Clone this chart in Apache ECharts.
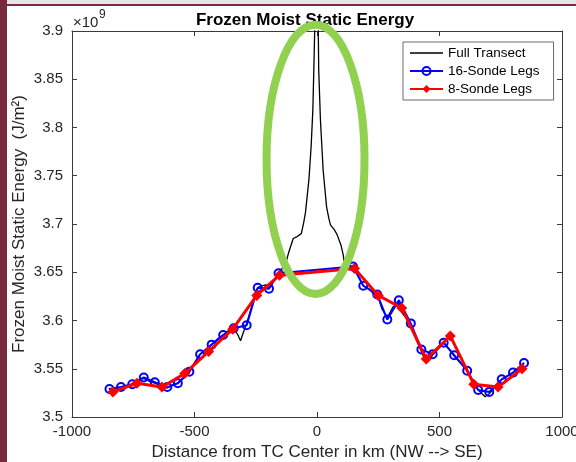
<!DOCTYPE html>
<html>
<head>
<meta charset="utf-8">
<script src="https://cdn.jsdelivr.net/npm/echarts@6/dist/echarts.min.js"></script>
<style>
  html, body { margin: 0; padding: 0; background: #fff; }
  #main { width: 576px; height: 462px; }
</style>
</head>
<body>
<div id="main"></div>
<script>
// values in units of 1e9 J/m^2, distance in km
const xTicks = [-1000, -500, 0, 500, 1000];
const yTicks = [3.5, 3.55, 3.6, 3.65, 3.7, 3.75, 3.8, 3.85, 3.9];

const fullTransect = [
  [-850, 3.529], [-800, 3.531], [-754, 3.534], [-730, 3.538], [-707, 3.540],
  [-685, 3.537], [-662, 3.535], [-640, 3.533], [-611, 3.530], [-590, 3.533],
  [-568, 3.535], [-545, 3.540], [-521, 3.547], [-500, 3.556], [-477, 3.565],
  [-455, 3.569], [-430, 3.575], [-405, 3.581], [-383, 3.585], [-360, 3.590],
  [-340, 3.592], [-325, 3.586], [-312, 3.579], [-300, 3.588], [-287, 3.597],
  [-265, 3.616], [-250, 3.630], [-242, 3.634], [-225, 3.636], [-210, 3.637],
  [-196, 3.633], [-175, 3.642], [-157, 3.649], [-142, 3.654], [-128, 3.659],
  [-115, 3.671], [-97, 3.685], [-81, 3.687], [-64, 3.690], [-54, 3.702],
  [-47, 3.712], [-33, 3.746], [-24, 3.780], [-17, 3.818], [-13, 3.860],
  [-9, 3.905], [-6, 3.95], [-2, 3.98], [0, 3.96], [2, 3.98], [4, 3.93],
  [7, 3.86], [14, 3.808], [25, 3.756], [39, 3.718], [48, 3.706], [55, 3.699],
  [71, 3.694], [82, 3.689], [98, 3.678], [107, 3.668], [112, 3.659],
  [130, 3.657], [147, 3.656], [165, 3.648], [189, 3.636], [210, 3.633],
  [230, 3.628], [246, 3.627], [265, 3.612], [287, 3.603], [310, 3.614],
  [334, 3.619], [350, 3.607], [366, 3.602], [383, 3.595], [405, 3.580],
  [426, 3.568], [445, 3.556], [455, 3.558], [472, 3.564], [495, 3.572],
  [517, 3.577], [540, 3.570], [560, 3.563], [590, 3.555], [613, 3.548],
  [635, 3.537], [658, 3.528], [686, 3.521], [703, 3.524], [730, 3.532],
  [754, 3.539], [780, 3.543], [800, 3.546], [825, 3.551], [845, 3.556]
];

const sonde16 = [
  [-847, 3.529], [-800, 3.531], [-754, 3.534], [-707, 3.541], [-662, 3.536],
  [-611, 3.531], [-568, 3.535], [-521, 3.547], [-477, 3.565], [-430, 3.575],
  [-383, 3.585], [-340, 3.592], [-287, 3.595], [-242, 3.634], [-196, 3.633],
  [-157, 3.649],
  [147, 3.656], [189, 3.636], [246, 3.627], [287, 3.601], [334, 3.621],
  [383, 3.597], [426, 3.570], [472, 3.565], [517, 3.577], [560, 3.564],
  [613, 3.548], [658, 3.528], [703, 3.526], [754, 3.539], [800, 3.546],
  [845, 3.556]
];

const sonde8 = [
  [-833, 3.526], [-735, 3.535], [-633, 3.531], [-540, 3.545], [-442, 3.568],
  [-344, 3.591], [-246, 3.626], [-153, 3.647],
  [153, 3.654], [250, 3.626], [346, 3.613], [446, 3.560], [544, 3.584],
  [640, 3.534], [739, 3.531], [837, 3.550]
];

// highlighted region (data units)
const ringCenter = [-6, 3.767];
const ringHalfWidthKm = 200;
const ringHalfHeight = 0.1396;

const font = 'Liberation Sans, Arial, sans-serif';
const axisColor = '#3a3a3a';
const textColor = '#262626';

const chart = echarts.init(document.getElementById('main'), null, { renderer: 'canvas' });

const baseAxis = {
  axisLine: { show: true, onZero: false, lineStyle: { color: axisColor, width: 1 } },
  axisTick: { show: true, inside: true, length: 5, lineStyle: { color: axisColor } },
  splitLine: { show: false }
};

// thin line icon for the plain black series
const plainLineIcon = 'path://M0,0L0.01,0L0.01,0.01Z M0,4.2L33,4.2L33,5.8L0,5.8Z M0,10L0.01,10L0.01,9.99Z';

const option = {
  backgroundColor: '#fff',
  animation: false,
  textStyle: { fontFamily: font },
  title: {
    text: 'Frozen Moist Static Energy',
    left: 300, textAlign: 'center',
    top: 7,
    textStyle: { fontFamily: font, fontSize: 17, fontWeight: 'bold', color: '#000' }
  },
  legend: {
    orient: 'vertical',
    left: 403, top: 42,
    padding: [4, 14, 4, 6],
    itemGap: 4,
    itemWidth: 33, itemHeight: 10,
    borderColor: '#6a6a6a', borderWidth: 1,
    backgroundColor: '#fff',
    textStyle: { fontFamily: font, fontSize: 13.5, color: '#000' },
    data: [
      { name: 'Full Transect', icon: plainLineIcon, itemStyle: { color: '#000' } },
      '16-Sonde Legs',
      '8-Sonde Legs'
    ]
  },
  grid: { left: 72, right: 14, top: 31, bottom: 45, outerBoundsMode: 'none', containLabel: false },
  xAxis: [
    Object.assign({}, baseAxis, {
      type: 'value', min: -1000, max: 1000, interval: 500,
      name: 'Distance from TC Center in km (NW --> SE)',
      nameLocation: 'middle', nameGap: 27, nameMoveOverlap: false,
      nameTextStyle: { fontFamily: font, fontSize: 17, color: textColor },
      axisLabel: { fontFamily: font, fontSize: 15, color: textColor, margin: 7,
        formatter: v => String(v) }
    }),
    Object.assign({}, baseAxis, {
      type: 'value', min: -1000, max: 1000, interval: 500, position: 'top',
      axisLabel: { show: false }
    })
  ],
  yAxis: [
    Object.assign({}, baseAxis, {
      type: 'value', min: 3.5, max: 3.9, interval: 0.05,
      name: 'Frozen Moist Static Energy  (J/m\u00B2)',
      nameLocation: 'middle', nameGap: 44, nameMoveOverlap: false,
      nameTextStyle: { fontFamily: font, fontSize: 17, color: textColor },
      axisLabel: {
        fontFamily: font, fontSize: 15, color: textColor, margin: 9,
        formatter: v => String(+v.toFixed(2))
      }
    }),
    Object.assign({}, baseAxis, {
      type: 'value', min: 3.5, max: 3.9, interval: 0.05, position: 'right',
      axisLabel: { show: false }
    })
  ],
  series: [
    {
      name: 'Full Transect', type: 'line', data: fullTransect,
      symbol: 'none', clip: true, z: 2,
      itemStyle: { color: '#000' },
      lineStyle: { color: '#000', width: 1.3 }
    },
    {
      name: '16-Sonde Legs', type: 'line', data: sonde16,
      symbol: 'circle', symbolSize: 8, z: 3,
      itemStyle: { color: 'rgba(255,255,255,0)', borderColor: '#0000ff', borderWidth: 2 },
      lineStyle: { color: '#0000ff', width: 2 }
    },
    {
      name: '8-Sonde Legs', type: 'line', data: sonde8,
      symbol: 'diamond', symbolSize: 11, z: 4,
      itemStyle: { color: '#ff0000' },
      lineStyle: { color: '#ff0000', width: 3 }
    }
  ]
};

chart.setOption(option);

// decorations: page edge, exponent label, highlight ring
const c = chart.convertToPixel({ seriesIndex: 0 }, ringCenter);
const e = chart.convertToPixel({ seriesIndex: 0 },
  [ringCenter[0] + ringHalfWidthKm, ringCenter[1] + ringHalfHeight]);

chart.setOption({
  graphic: [
    { type: 'rect', left: 0, top: 0, z: 100, shape: { width: 7, height: 462 }, style: { fill: '#7a2a3e' } },
    { type: 'rect', left: 7, top: 0, z: 100, shape: { width: 569, height: 4 }, style: { fill: '#e6e4e4' } },
    { type: 'rect', left: 7, top: 4, z: 100, shape: { width: 569, height: 2 }, style: { fill: '#7a2a3e' } },
    { type: 'text', left: 73, top: 15, z: 100, style: { text: '\u00D710', font: '15px ' + font, fill: textColor } },
    { type: 'text', left: 99, top: 9, z: 100, style: { text: '9', font: '12px ' + font, fill: textColor } },
    {
      type: 'ellipse', z: 100,
      shape: { cx: c[0], cy: c[1], rx: Math.abs(e[0] - c[0]), ry: Math.abs(c[1] - e[1]) },
      style: { fill: 'none', stroke: '#92d050', lineWidth: 8 }
    }
  ]
});
</script>
</body>
</html>
